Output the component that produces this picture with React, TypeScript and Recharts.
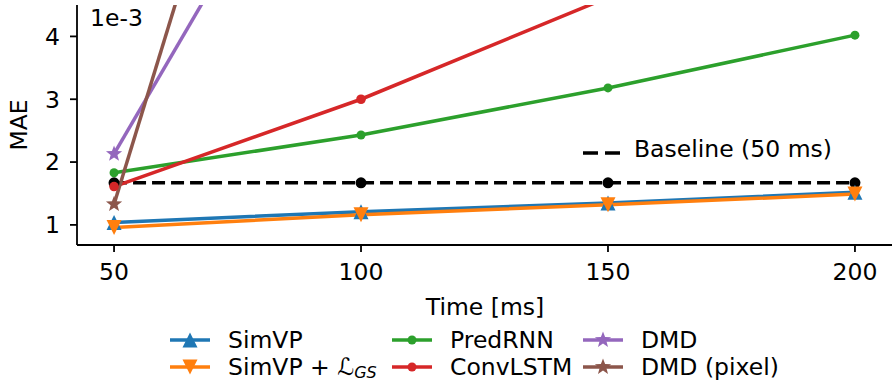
import React from 'react';
import { LineChart, Line, XAxis, YAxis } from 'recharts';

// time steps (ms) and MAE values (x1e-3)
const times = [50, 100, 150, 200];
const simvp = [1.04, 1.21, 1.35, 1.52];
const simvpGs = [0.96, 1.16, 1.32, 1.49];
const predrnn = [1.83, 2.43, 3.18, 4.02];
const convlstm = [1.61, 3.0, 4.62, null];
const dmd = [2.13, 8.85, null, null];
const dmdPixel = [1.33, 14.15, null, null];
const baseline = [1.67, 1.67, 1.67, 1.67];

const xTicks = [50, 100, 150, 200];
const yTicks = [1, 2, 3, 4];

const FONT = 'DejaVu Sans, sans-serif';
const FS = 23.5;

const COLORS = {
  simvp: '#1f77b4',
  simvpGs: '#ff7f0e',
  predrnn: '#2ca02c',
  convlstm: '#d62728',
  dmd: '#9467bd',
  dmdPixel: '#8c564b',
};

const data = times.map((t, i) => ({
  t,
  simvp: simvp[i],
  simvpGs: simvpGs[i],
  predrnn: predrnn[i],
  convlstm: convlstm[i],
  dmd: dmd[i],
  dmdPixel: dmdPixel[i],
  baseline: baseline[i],
}));

type Shape = 'up' | 'down' | 'circle' | 'star';

const starPoints = (cx: number, cy: number, R: number) => {
  const r = R * 0.42;
  const pts: string[] = [];
  for (let k = 0; k < 10; k++) {
    const a = -Math.PI / 2 + (k * Math.PI) / 5;
    const rr = k % 2 === 0 ? R : r;
    pts.push(`${cx + rr * Math.cos(a)},${cy + rr * Math.sin(a)}`);
  }
  return pts.join(' ');
};

const Marker = ({ cx, cy, shape, color, size }: { cx: number; cy: number; shape: Shape; color: string; size: number }) => {
  if (shape === 'circle') return <circle cx={cx} cy={cy} r={size} fill={color} />;
  if (shape === 'star') return <polygon points={starPoints(cx, cy, size)} fill={color} />;
  const s = size;
  const pts =
    shape === 'up'
      ? `${cx},${cy - s} ${cx - s},${cy + s} ${cx + s},${cy + s}`
      : `${cx},${cy + s} ${cx - s},${cy - s} ${cx + s},${cy - s}`;
  return <polygon points={pts} fill={color} />;
};

const makeDot = (shape: Shape, color: string, size: number) => (props: any) => {
  const { cx, cy, index, value } = props;
  if (cx == null || cy == null || value == null) return <g key={`d-${index}`} />;
  return (
    <g key={`d-${index}`}>
      <Marker cx={cx} cy={cy} shape={shape} color={color} size={size} />
    </g>
  );
};

const series: { key: string; name: string; color: string; shape: Shape; size: number }[] = [
  { key: 'simvp', name: 'SimVP', color: COLORS.simvp, shape: 'up', size: 7.5 },
  { key: 'simvpGs', name: 'SimVP + ', color: COLORS.simvpGs, shape: 'down', size: 7.5 },
  { key: 'predrnn', name: 'PredRNN', color: COLORS.predrnn, shape: 'circle', size: 4.5 },
  { key: 'convlstm', name: 'ConvLSTM', color: COLORS.convlstm, shape: 'circle', size: 4.8 },
  { key: 'dmd', name: 'DMD', color: COLORS.dmd, shape: 'star', size: 8.5 },
  { key: 'dmdPixel', name: 'DMD (pixel)', color: COLORS.dmdPixel, shape: 'star', size: 8.5 },
];

const legendSlots = [
  { x: 170, y: 340 },
  { x: 170, y: 367 },
  { x: 392, y: 340 },
  { x: 392, y: 367 },
  { x: 583, y: 340 },
  { x: 583, y: 367 },
];

const App: React.FC = () => {
  return (
    <div style={{ position: 'absolute', left: 0, top: 0, width: 893, height: 381, background: '#fff' }}>
      <LineChart width={893} height={381} data={data} margin={{ top: 5, right: 1, bottom: 96, left: 0 }}>
        <XAxis
          dataKey="t"
          type="number"
          domain={[42.5, 207.5]}
          ticks={xTicks}
          allowDataOverflow
          height={40}
          tickSize={7}
          tickMargin={11}
          axisLine={{ stroke: '#000', strokeWidth: 1.8 }}
          tickLine={{ stroke: '#000', strokeWidth: 1.8 }}
          tick={{ fill: '#000', fontSize: FS, fontFamily: FONT }}
        />
        <YAxis
          type="number"
          domain={[0.68, 4.5]}
          ticks={yTicks}
          allowDataOverflow
          width={77}
          tickSize={7}
          tickMargin={10}
          axisLine={{ stroke: '#000', strokeWidth: 1.8 }}
          tickLine={{ stroke: '#000', strokeWidth: 1.8 }}
          tick={{ fill: '#000', fontSize: FS, fontFamily: FONT }}
        />
        <Line
          dataKey="baseline"
          stroke="#000"
          strokeWidth={3.5}
          strokeDasharray="13 6"
          dot={makeDot('circle', '#000', 5.5)}
          isAnimationActive={false}
        />
        {series.map((s) => (
          <Line
            key={s.key}
            dataKey={s.key}
            stroke={s.color}
            strokeWidth={3.5}
            dot={makeDot(s.shape, s.color, s.size)}
            isAnimationActive={false}
          />
        ))}
      </LineChart>
      <svg
        width={893}
        height={381}
        style={{ position: 'absolute', left: 0, top: 0, pointerEvents: 'none' }}
        fontFamily={FONT}
        fontSize={FS}
      >
        <text x={90} y={26} fill="#000">1e-3</text>
        <text transform="translate(27,125) rotate(-90)" textAnchor="middle" fill="#000">MAE</text>
        <text x={485} y={315} textAnchor="middle" fill="#000">Time [ms]</text>

        <line x1={583} y1={153} x2={620} y2={153} stroke="#000" strokeWidth={3.5} strokeDasharray="15 7" />
        <text x={634} y={157} fill="#000">Baseline (50 ms)</text>

        {series.map((s, i) => {
          const { x, y } = legendSlots[i];
          return (
            <g key={s.key}>
              <line x1={x} y1={y} x2={x + 40} y2={y} stroke={s.color} strokeWidth={3.5} />
              <Marker cx={x + 20} cy={y} shape={s.shape} color={s.color} size={s.shape === 'circle' ? 4.5 : s.size} />
              <text x={x + 58} y={y + 8} fill="#000">
                {s.name}
                {s.key === 'simvpGs' && (
                  <>
                    <tspan fontStyle="italic">ℒ</tspan>
                    <tspan fontStyle="italic" fontSize={16} dy={3}>GS</tspan>
                  </>
                )}
              </text>
            </g>
          );
        })}
      </svg>
    </div>
  );
};

export default App;
